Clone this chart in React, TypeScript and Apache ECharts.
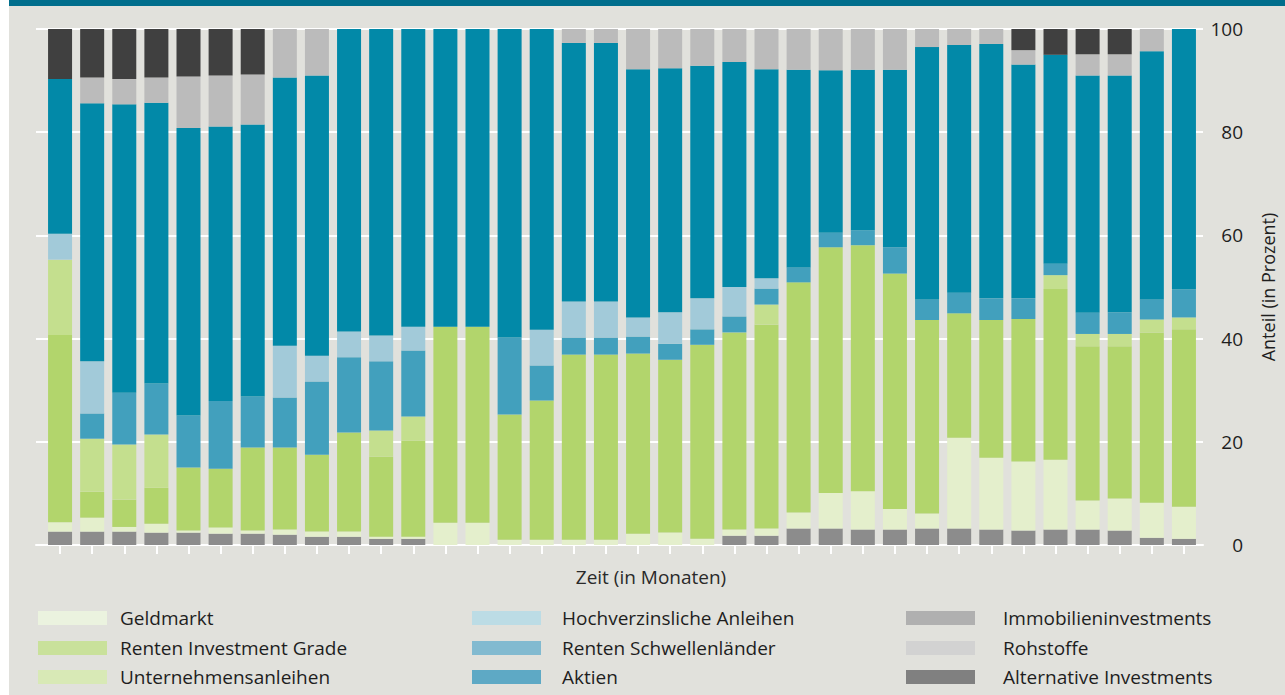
import React, { useEffect, useRef } from "react";
import * as echarts from "echarts";

const months = ["1","2","3","4","5","6","7","8","9","10","11","12","13","14","15","16","17","18","19","20","21","22","23","24","25","26","27","28","29","30","31","32","33","34","35","36"];

const alternative = [2.6,2.6,2.6,2.4,2.4,2.2,2.2,2.0,1.6,1.6,1.2,1.2,0,0,0,0,0,0,0,0,0,1.8,1.8,3.2,3.2,3.0,3.0,3.2,3.2,3.0,2.8,3.0,3.0,2.8,1.4,1.2];
const geldmarkt = [1.8,2.7,0.9,1.7,0.4,1.2,0.6,1.0,1.0,1.0,0.4,0.4,4.3,4.3,1.0,1.0,1.0,1.0,2.2,2.4,1.2,1.2,1.4,3.1,6.9,7.4,4.0,2.9,17.6,13.9,13.4,13.5,5.6,6.2,6.8,6.2];
const rentenIG = [36.3,5.0,5.3,7.0,12.2,11.4,16.1,15.9,14.9,19.2,15.5,18.6,38.0,38.0,24.3,27.0,35.9,35.9,34.9,33.5,37.6,38.2,39.5,44.6,47.6,47.7,45.6,37.5,24.1,26.7,27.6,33.1,29.9,29.5,33.0,34.4];
const unternehmen = [14.6,10.3,10.7,10.3,0,0,0,0,0,0,5.1,4.7,0,0,0,0,0,0,0,0,0,0,3.9,0,0,0,0,0,0,0,0,2.7,2.4,2.4,2.5,2.3];
const schwellen = [0,4.9,10.0,9.9,10.1,13.1,9.9,9.7,14.2,14.6,13.4,12.8,0,0,14.9,6.8,3.3,3.3,3.3,3.1,3.0,3.1,3.1,2.9,2.8,2.9,5.1,4.0,4.0,4.2,4.0,2.2,4.1,4.2,3.9,5.4];
const hochverz = [5.0,10.1,0,0,0,0,0,10.0,5.0,5.0,5.0,4.6,0,0,0,6.9,7.0,7.0,3.7,6.1,6.0,5.7,2.0,0,0,0,0,0,0,0,0,0,0,0,0,0];
const aktien = [30.0,50.0,55.9,54.4,55.7,53.2,52.7,52.0,54.3,58.6,59.4,57.7,57.7,57.7,59.8,58.3,50.1,50.1,48.1,47.3,45.1,43.6,40.5,38.3,31.5,31.1,34.4,48.9,48.0,49.3,45.3,40.5,46.0,45.9,48.1,50.5];
const immobilien = [0,5.0,4.9,4.9,10.0,9.9,9.7,9.4,9.0,0,0,0,0,0,0,0,2.7,2.7,7.8,7.6,7.1,6.4,7.8,7.9,8.0,7.9,7.9,3.5,3.1,2.9,2.8,0,4.1,4.1,4.3,0];
const rohstoffe = [9.7,9.4,9.7,9.4,9.2,9.0,8.8,0,0,0,0,0,0,0,0,0,0,0,0,0,0,0,0,0,0,0,0,0,0,0,4.1,5.0,4.9,4.9,0,0];

const yTicks = [0, 20, 40, 60, 80, 100];

const FONT = "'Open Sans', sans-serif";
const FS = 19;

const seriesDefs = [
  { name: "Alternative Investments", data: alternative, color: "#8c8c8c", legend: "#808080" },
  { name: "Geldmarkt", data: geldmarkt, color: "#e4efcc", legend: "#ebf3df" },
  { name: "Renten Investment Grade", data: rentenIG, color: "#b2d56c", legend: "#c9e19b" },
  { name: "Unternehmensanleihen", data: unternehmen, color: "#c4df8e", legend: "#d8e9b6" },
  { name: "Renten Schwellenländer", data: schwellen, color: "#42a0bd", legend: "#82bad0" },
  { name: "Hochverzinsliche Anleihen", data: hochverz, color: "#a2cad9", legend: "#bcdce5" },
  { name: "Aktien", data: aktien, color: "#0289a8", legend: "#5ea9c5" },
  { name: "Immobilieninvestments", data: immobilien, color: "#bbbbbb", legend: "#b0b0b0" },
  { name: "Rohstoffe", data: rohstoffe, color: "#404040", legend: "#d2d2d2" },
];

const legendCols = [
  ["Geldmarkt", "Renten Investment Grade", "Unternehmensanleihen"],
  ["Hochverzinsliche Anleihen", "Renten Schwellenländer", "Aktien"],
  ["Immobilieninvestments", "Rohstoffe", "Alternative Investments"],
];
const legendLeft = [29, 463, 897];
const legendTextGap = [8, 16, 23];
const legendRowCenter = [618, 648, 677];

export default function App() {
  const ref = useRef<HTMLDivElement>(null);
  useEffect(() => {
    if (!ref.current) return;
    const chart = echarts.init(ref.current, null, { renderer: "svg" });
    const legendColor = (n: string) => seriesDefs.find((s) => s.name === n)!.legend;
    const legends: any[] = [];
    legendCols.forEach((col, i) => {
      col.forEach((n, r) => {
        legends.push({
          left: legendLeft[i],
          top: legendRowCenter[r] - 10,
          orient: "vertical",
          padding: 0,
          itemWidth: 69,
          itemHeight: 14,
          icon: "rect",
          selectedMode: false,
          textStyle: { color: "#1e1e1e", fontSize: FS, fontFamily: FONT, padding: [0, 0, 0, legendTextGap[i]], lineHeight: 20 },
          data: [{ name: n, itemStyle: { color: legendColor(n), borderWidth: 0 } }],
        });
      });
    });
    chart.setOption({
      animation: false,
      backgroundColor: "#e1e1dc",
      grid: [
        { left: 35, right: 85, top: 29, bottom: 150 },
        { left: 27, right: 78, top: 29, bottom: 150 },
      ],
      xAxis: [
        {
          type: "category",
          gridIndex: 0,
          data: months,
          axisLine: { show: false },
          axisTick: { show: true, alignWithLabel: true, interval: 0, length: 9, lineStyle: { color: "#ffffff", width: 2 } },
          axisLabel: { show: false },
          splitLine: { show: false },
        },
        {
          type: "value",
          gridIndex: 1,
          min: 0,
          max: 1,
          axisLine: { show: true, lineStyle: { color: "#ffffff", width: 2 } },
          axisTick: { show: false },
          axisLabel: { show: false },
          splitLine: { show: false },
        },
      ],
      yAxis: [
        { type: "value", gridIndex: 0, min: 0, max: 100, interval: 20, show: false },
        {
          type: "value",
          gridIndex: 1,
          min: yTicks[0],
          max: yTicks[yTicks.length - 1],
          interval: 20,
          position: "right",
          axisLine: { show: false },
          axisTick: { show: false },
          splitLine: { show: true, lineStyle: { color: "#ffffff", width: 2 } },
          axisLabel: { color: "#1e1e1e", fontSize: FS, fontFamily: FONT, align: "right", margin: 40 },
          name: "Anteil (in Prozent)",
          nameLocation: "middle",
          nameRotate: 90,
          nameGap: 56,
          nameTextStyle: { color: "#1e1e1e", fontSize: 18, fontFamily: FONT },
        },
      ],
      legend: legends,
      graphic: [
        { type: "rect", left: 0, top: 0, shape: { width: 1276, height: 6 }, style: { fill: "#006e8c" } },
        {
          type: "text",
          x: 642,
          y: 577,
          style: { text: "Zeit (in Monaten)", fill: "#2a2a2a", fontSize: FS, fontFamily: FONT, textAlign: "center", textVerticalAlign: "middle" },
        },
      ],
      series: seriesDefs.map((s) => ({
        name: s.name,
        type: "bar",
        stack: "total",
        xAxisIndex: 0,
        yAxisIndex: 0,
        barWidth: 24,
        data: s.data,
        itemStyle: { color: s.color },
      })),
    });
    return () => chart.dispose();
  }, []);
  return (
    <div style={{ position: "absolute", left: 9, top: 0, width: 1276, height: 695 }}>
      <div ref={ref} style={{ width: 1276, height: 695 }} />
    </div>
  );
}
